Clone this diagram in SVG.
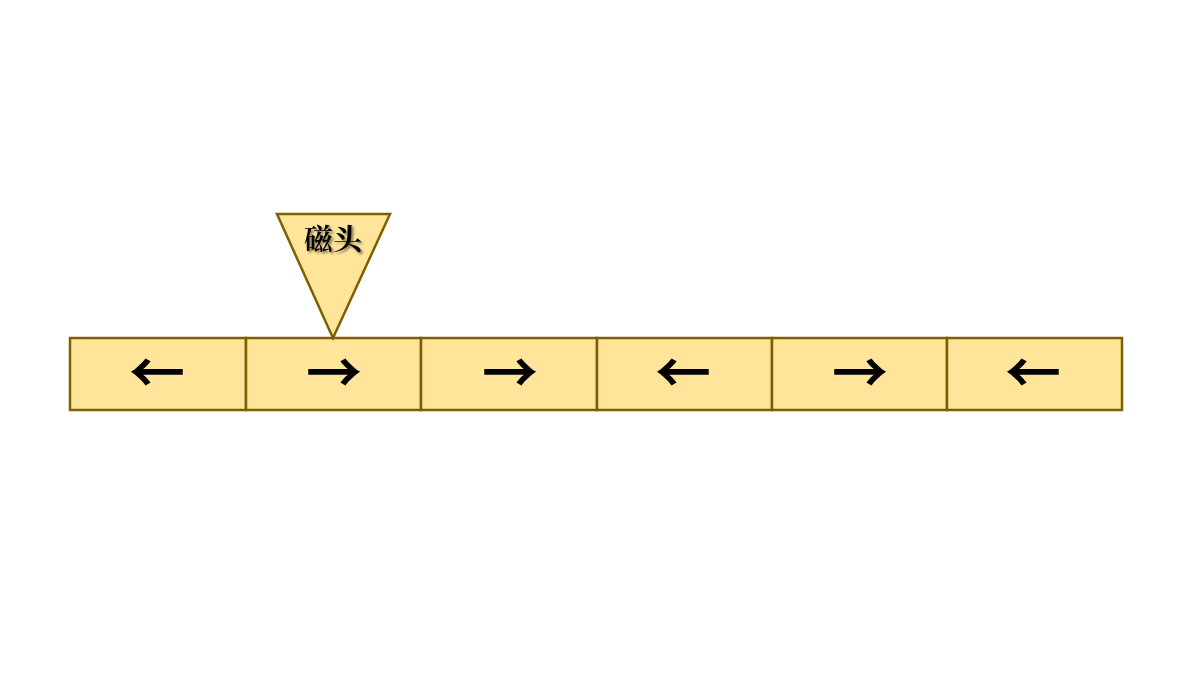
<svg xmlns="http://www.w3.org/2000/svg" width="1200" height="675" viewBox="0 0 1200 675">
<defs>
<style>
.cell{fill:#FFE599;stroke:#7F6000;stroke-width:2.5}
.arr{font-family:"Noto Sans CJK SC","DejaVu Sans",sans-serif;font-size:56px;font-weight:bold;fill:#000;text-anchor:middle}
.lbl{font-family:"Noto Serif CJK SC","Noto Sans CJK SC",serif;font-size:29px;font-weight:bold;fill:#000;text-anchor:middle}
</style>
<filter id="sh" x="-20%" y="-20%" width="140%" height="140%">
<feDropShadow dx="2" dy="2" stdDeviation="1.2" flood-color="#000" flood-opacity="0.45"/>
</filter>
</defs>
<rect width="1200" height="675" fill="#fff"/>
<g id="tape">
<g id="c1"><rect class="cell" x="70" y="338" width="176" height="72"/><text class="arr" x="157" y="393">←</text></g>
<g id="c2"><rect class="cell" x="246" y="338" width="175" height="72"/><text class="arr" x="334" y="393">→</text></g>
<g id="c3"><rect class="cell" x="421" y="338" width="176" height="72"/><text class="arr" x="510" y="393">→</text></g>
<g id="c4"><rect class="cell" x="597" y="338" width="175" height="72"/><text class="arr" x="683" y="393">←</text></g>
<g id="c5"><rect class="cell" x="772" y="338" width="175" height="72"/><text class="arr" x="860" y="393">→</text></g>
<g id="c6"><rect class="cell" x="947" y="338" width="175" height="72"/><text class="arr" x="1033" y="393">←</text></g>
</g>
<g id="head">
<polygon class="cell" points="277,214 390,214 333,338" stroke-linejoin="miter"/>
<text class="lbl" x="333" y="250" filter="url(#sh)">磁头</text>
</g>
</svg>
